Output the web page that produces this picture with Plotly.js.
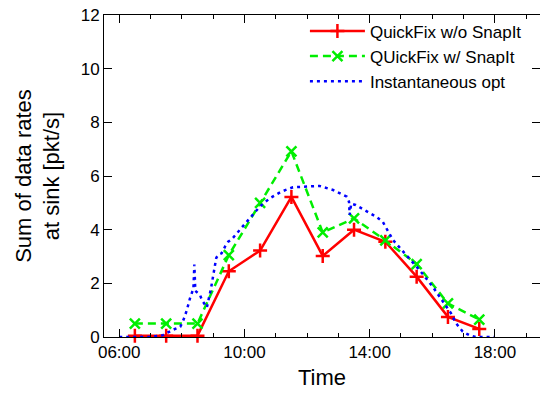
<!DOCTYPE html>
<html>
<head>
<meta charset="utf-8">
<script src="https://cdn.plot.ly/plotly-3.0.1.min.js"></script>
<style>html,body{margin:0;padding:0;background:#fff;}#chart{width:540px;height:396px;}</style>
</head>
<body>
<div id="chart"></div>
<script>
// Sample times (hours of day)
const sampleHours = [6.5, 7.5, 8.5, 9.5, 10.5, 11.5, 12.5, 13.5, 14.5, 15.5, 16.5, 17.5];
// QuickFix w/o SnapIt
const quickfixNoSnap = [0.05, 0.05, 0.05, 2.45, 3.22, 5.22, 3.02, 4.0, 3.55, 2.25, 0.75, 0.3];
// QUickFix w/ SnapIt
const quickfixSnap = [0.5, 0.5, 0.5, 3.05, 5.0, 6.92, 3.9, 4.42, 3.6, 2.72, 1.25, 0.65];
// Instantaneous opt
const optHours = [6.0, 6.5, 7.0, 7.4, 7.7, 7.95, 8.05, 8.16, 8.26, 8.37, 8.40, 8.43, 8.58, 8.64, 8.8, 8.93, 9.03, 9.1, 9.16, 9.27, 9.38, 9.48, 9.6, 9.85, 10.17, 10.49, 10.81, 11.18, 11.55, 11.87, 12.19, 12.4, 12.83, 13.09, 13.27, 13.34, 13.36, 13.41, 13.55, 13.73, 13.89, 14.05, 14.21, 14.42, 14.53, 14.74, 15.16, 15.59, 16.01, 16.33, 16.6, 16.76, 16.97, 17.18, 17.39, 17.7, 18.0];
const optRates = [0, 0, 0, 0.07, 0.26, 0.38, 0.63, 1.0, 1.44, 1.81, 2.7, 1.72, 1.57, 1.38, 1.1, 1.8, 2.5, 2.95, 3.06, 3.12, 3.37, 3.55, 3.65, 3.99, 4.42, 4.86, 5.17, 5.42, 5.58, 5.6, 5.63, 5.63, 5.48, 5.32, 5.23, 5.04, 4.55, 4.97, 4.92, 4.8, 4.7, 4.6, 4.48, 4.29, 4.05, 3.62, 3.06, 2.5, 1.88, 1.35, 0.88, 0.51, 0.2, 0.07, 0, 0, 0];
// Axis ticks
const xTickVals = [6, 10, 14, 18];
const xTickLabels = ['06:00', '10:00', '14:00', '18:00'];
const yTickVals = [0, 2, 4, 6, 8, 10, 12];
const seriesNames = ['QuickFix w/o SnapIt', 'QUickFix w/ SnapIt', 'Instantaneous opt'];

const FONT = 'Liberation Sans, Arial, sans-serif';

const traces = [
  {
    x: sampleHours, y: quickfixNoSnap, name: seriesNames[0], type: 'scatter', mode: 'lines+markers',
    line: {color: '#ff0000', width: 2.5},
    marker: {symbol: 'cross-thin', size: 10, color: '#ff0000', line: {color: '#ff0000', width: 2.5}},
    cliponaxis: false
  },
  {
    x: sampleHours, y: quickfixSnap, name: seriesNames[1], type: 'scatter', mode: 'lines+markers',
    line: {color: '#00ee00', width: 2.5, dash: '8px,5px'},
    marker: {symbol: 'x-thin', size: 10, color: '#00ee00', line: {color: '#00ee00', width: 2.5}},
    cliponaxis: false
  },
  {
    x: optHours, y: optRates, name: seriesNames[2], type: 'scatter', mode: 'lines',
    line: {color: '#0000ff', width: 2.5, dash: '3px,4px'}
  },
  {
    x: [], y: [], yaxis: 'y2', type: 'scatter', mode: 'lines', showlegend: false, hoverinfo: 'skip'
  }
];

const layout = {
  width: 540, height: 396,
  margin: {l: 104, r: 0, t: 15, b: 59},
  paper_bgcolor: '#ffffff', plot_bgcolor: '#ffffff',
  font: {family: FONT, color: '#000000', size: 17},
  showlegend: true,
  legend: {
    x: 0.97, xanchor: 'right', y: 1.005, yanchor: 'top',
    bgcolor: 'rgba(0,0,0,0)', borderwidth: 0,
    font: {family: FONT, size: 17, color: '#000'},
    itemwidth: 55, tracegroupgap: 0
  },
  xaxis: {
    range: [5.514, 19.44],
    tickmode: 'array', tickvals: xTickVals, ticktext: xTickLabels,
    ticks: 'inside', ticklen: 8, tickwidth: 1, tickcolor: '#000',
    minor: {dtick: 1, tick0: 0, ticks: 'inside', ticklen: 4, tickwidth: 1, tickcolor: '#000', showgrid: false},
    showline: true, linecolor: '#000', linewidth: 1, mirror: 'ticks',
    showgrid: false, zeroline: false,
    tickfont: {family: FONT, size: 17, color: '#000'},
    title: {text: 'Time', font: {family: FONT, size: 22, color: '#000'}, standoff: 8}
  },
  yaxis: {
    range: [0, 12],
    tickmode: 'array', tickvals: yTickVals,
    ticks: 'inside', ticklen: 8, tickwidth: 1, tickcolor: '#000',
    showline: true, linecolor: '#000', linewidth: 1, mirror: false,
    showgrid: false, zeroline: false,
    tickfont: {family: FONT, size: 17, color: '#000'},
    title: {text: 'Sum of data rates<br>at sink [pkt/s]', font: {family: FONT, size: 22, color: '#000'}, standoff: 14}
  },
  yaxis2: {
    overlaying: 'y', side: 'right', range: [0, 12],
    tickmode: 'array', tickvals: yTickVals,
    ticks: 'inside', ticklen: 8, tickwidth: 1, tickcolor: '#000',
    showticklabels: false, showline: false, showgrid: false, zeroline: false
  }
};

Plotly.newPlot('chart', traces, layout, {displayModeBar: false, staticPlot: true});
</script>
</body>
</html>
